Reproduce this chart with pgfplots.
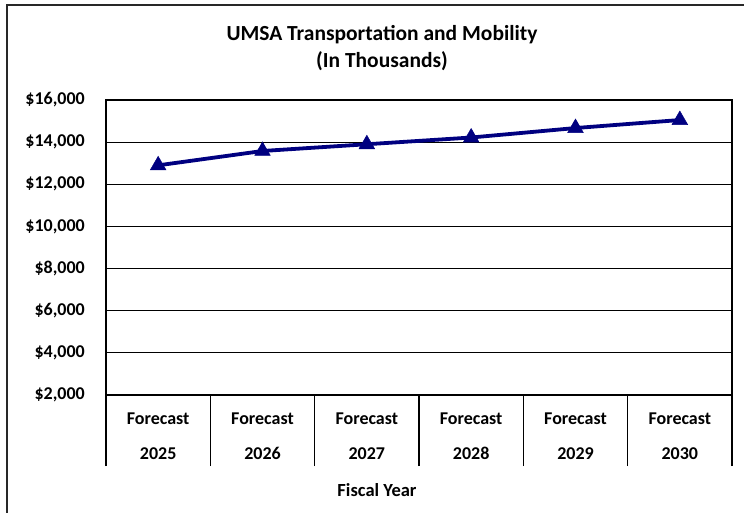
\documentclass[border=0pt]{standalone}
\usepackage{fontspec}
\setmainfont{Carlito}
\usepackage{pgfplots}
\pgfplotsset{compat=1.18}

\definecolor{navyline}{RGB}{0,0,128}
\definecolor{framegray}{RGB}{40,40,40}

\begin{document}
\begin{tikzpicture}
    \useasboundingbox (0pt,0pt) rectangle (744pt,512pt);
    % outer frame (cut off at right and bottom like the reference)
    \draw[framegray, line width=1.6pt] (7pt,-10pt) -- (7pt,507pt) -- (760pt,507pt);

    \node[align=center, font=\bfseries\fontsize{21.5}{27}\selectfont] at (382pt,464pt) {UMSA Transportation and Mobility\\(In Thousands)};

    \begin{axis}[
        at={(106pt,117pt)}, anchor=south west,
        scale only axis,
        width=626pt, height=295pt,
        xmin=0.5, xmax=6.5,
        ymin=2000, ymax=16000,
        ytick={2000,4000,...,16000},
        scaled y ticks=false,
        xtick={1,2,3,4,5,6},
        xtick pos=bottom,
        xticklabels={Forecast\\2025, Forecast\\2026, Forecast\\2027, Forecast\\2028, Forecast\\2029, Forecast\\2030},
        extra x ticks={0.5,1.5,2.5,3.5,4.5,5.5,6.5},
        extra x tick labels={},
        extra x tick style={major tick length=71pt, tick align=outside, xtick pos=bottom,
            tick style={black, line width=1.2pt}},
        major tick length=0pt,
        ymajorgrids,
        grid style={black, line width=1pt},
        axis line style={black, line width=1.2pt},
        yticklabel={\$\pgfmathprintnumber{\tick}},
        /pgf/number format/.cd, fixed, 1000 sep={,}, assume math mode=true,
        /pgfplots/.cd,
        yticklabel style={font=\bfseries\fontsize{18}{20}\selectfont, anchor=east, inner sep=0pt, xshift=-21pt},
        xticklabel style={font=\bfseries\fontsize{18}{35}\selectfont, align=center, anchor=north, inner sep=0pt, yshift=-18pt},
        clip=false,
    ]
    \addplot[color=navyline, line width=3.8pt, mark=triangle*,
        mark options={mark size=9pt, line width=0.5pt, fill=navyline}]
        coordinates {
        (1, 12900) (2, 13580) (3, 13900) (4, 14220) (5, 14670) (6, 15050)
    };
    \end{axis}

    \node[font=\bfseries\fontsize{18.5}{20}\selectfont] at (377pt,22pt) {Fiscal Year};
\end{tikzpicture}
\end{document}
